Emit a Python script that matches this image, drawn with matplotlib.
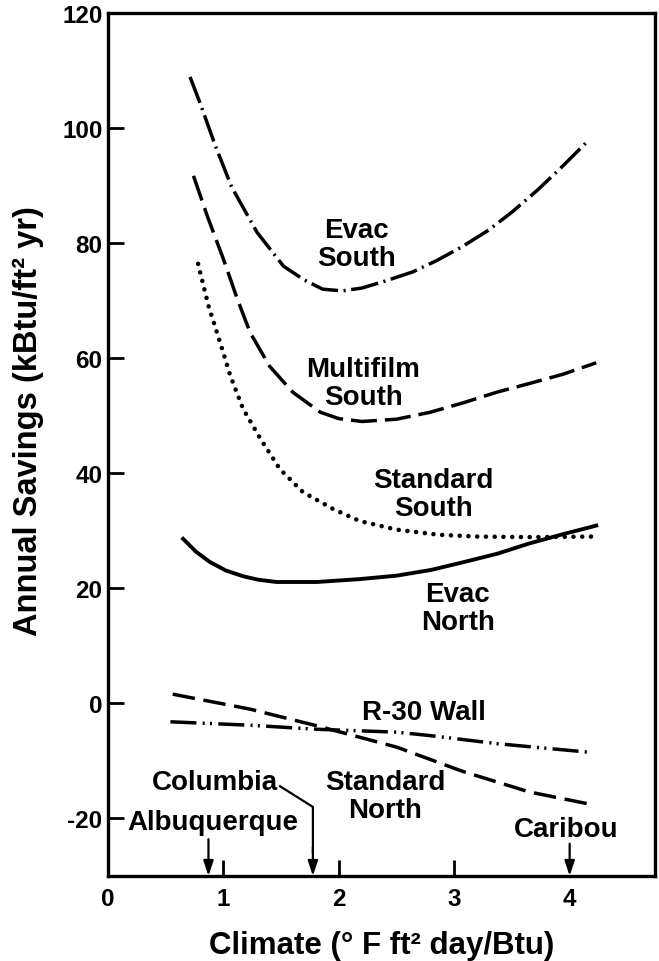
import matplotlib
matplotlib.use("Agg")
import matplotlib.pyplot as plt

plt.rcParams['font.family'] = ['Liberation Sans', 'DejaVu Sans']
plt.rcParams['font.weight'] = 'bold'
plt.rcParams['axes.unicode_minus'] = False

# curves (climate, savings)
evac_south_x = [0.71, 0.80, 0.93, 1.07, 1.29, 1.52, 1.70, 1.86, 2.03, 2.2, 2.4, 2.64, 2.85,
                3.07, 3.3, 3.5, 3.72, 3.94, 4.15]
evac_south_y = [108.9, 104.2, 96.9, 89.8, 81.9, 76.0, 73.6, 72.0, 71.7, 72.2, 73.4, 75, 77,
                79.4, 82.3, 85.4, 89.2, 93.4, 97.6]

multifilm_x = [0.74, 0.86, 1.0, 1.12, 1.23, 1.40, 1.60, 1.84, 2.0, 2.2, 2.5, 2.79, 3.07,
               3.37, 3.65, 3.94, 4.23]
multifilm_y = [91.7, 84.7, 77.2, 70.3, 64.5, 58.6, 54.1, 50.6, 49.5, 49.0, 49.4, 50.6, 52.2,
               54.1, 55.6, 57.2, 59.2]

std_south_x = [0.78, 0.87, 0.97, 1.06, 1.17, 1.32, 1.49, 1.69, 1.95, 2.18, 2.5, 2.87, 3.2,
               3.65, 4.2]
std_south_y = [76.4, 69.1, 62.8, 56.9, 51.2, 46.0, 40.7, 36.7, 33.8, 31.7, 30.2, 29.3, 29.0,
               28.9, 29.0]

evac_north_x = [0.65, 0.76, 0.88, 1.02, 1.17, 1.3, 1.46, 1.81, 2.18, 2.5, 2.8, 3.07, 3.37,
                3.65, 3.94, 4.23]
evac_north_y = [28.6, 26.4, 24.6, 23.1, 22.1, 21.5, 21.1, 21.1, 21.6, 22.2, 23.2, 24.5, 26.0,
                27.8, 29.4, 30.9]

std_north_x = [0.56, 1.23, 1.81, 2.5, 3.07, 3.65, 4.17]
std_north_y = [1.6, -1.0, -3.9, -7.6, -11.8, -15.4, -17.5]

r30_x = [0.54, 1.23, 1.81, 2.5, 2.79, 3.37, 4.17]
r30_y = [-3.2, -3.8, -4.5, -5.0, -5.6, -7.0, -8.5]

fig = plt.figure(figsize=(6.59, 9.62), dpi=100)
ax = fig.add_axes([0.164, 0.0884, 0.830, 0.897])

lw = 2.5
ax.plot(evac_south_x, evac_south_y, color='black', lw=lw, dashes=[8, 1.6, 0.6, 1.6])
ax.plot(multifilm_x, multifilm_y, color='black', lw=lw, dashes=[7.5, 2.3])
ax.plot(std_south_x, std_south_y, color='black', lw=3.3, dashes=[0.01, 1.9],
        dash_capstyle='round')
ax.plot(evac_north_x, evac_north_y, color='black', lw=lw + 0.3)
ax.plot(std_north_x, std_north_y, color='black', lw=lw, dashes=[6.5, 2.5])
ax.plot(r30_x, r30_y, color='black', lw=lw, dashes=[7.5, 1.8, 0.6, 1.5, 0.6, 1.8])

fs = 20
kw = dict(ha='center', va='center', fontsize=fs, fontweight='bold', linespacing=1.1)
ax.text(2.15, 79.8, 'Evac\nSouth', **kw)
ax.text(2.21, 55.7, 'Multifilm\nSouth', **kw)
ax.text(2.82, 36.4, 'Standard\nSouth', **kw)
ax.text(3.03, 16.6, 'Evac\nNorth', **kw)
ax.text(2.74, -1.5, 'R-30 Wall', **kw)
ax.text(2.4, -16.1, 'Standard\nNorth', **kw)
ax.text(3.97, -21.8, 'Caribou', **kw)
ax.text(0.93, -13.7, 'Columbia', **kw)
ax.text(0.91, -20.6, 'Albuquerque', **kw)

# city arrows
arr = dict(arrowstyle='-|>,head_length=0.9,head_width=0.3', color='black', lw=1.6,
           shrinkA=0, shrinkB=0)
ax.annotate('', xy=(0.87, -30), xytext=(0.87, -23.6), arrowprops=arr)
ax.annotate('', xy=(4.0, -30), xytext=(4.0, -24.4), arrowprops=arr)
ax.plot([1.49, 1.775, 1.775], [-14.4, -18.0, -26], color='black', lw=1.6)
ax.annotate('', xy=(1.775, -30), xytext=(1.775, -25), arrowprops=arr)

ax.set_xlim(0, 4.74)
ax.set_ylim(-30, 120)
ax.set_xticks([0, 1, 2, 3, 4])
ax.set_yticks([-20, 0, 20, 40, 60, 80, 100, 120])
ax.tick_params(direction='in', length=11.5, width=2, labelsize=17.5, pad=8)
ax.tick_params(axis='y', pad=4)
xt = ax.xaxis.get_major_ticks()
xt[0].tick1line.set_visible(False)
xt[4].tick1line.set_visible(False)
for s in ax.spines.values():
    s.set_linewidth(2.4)

ax.set_xlabel('Climate (° F ft² day/Btu)', fontsize=22.5, fontweight='bold', labelpad=14)
ax.set_ylabel('Annual Savings (kBtu/ft² yr)', fontsize=23.5, fontweight='bold', labelpad=8)
ax.yaxis.set_label_coords(-0.118, 0.528)

fig.savefig('out.png', dpi=100)
